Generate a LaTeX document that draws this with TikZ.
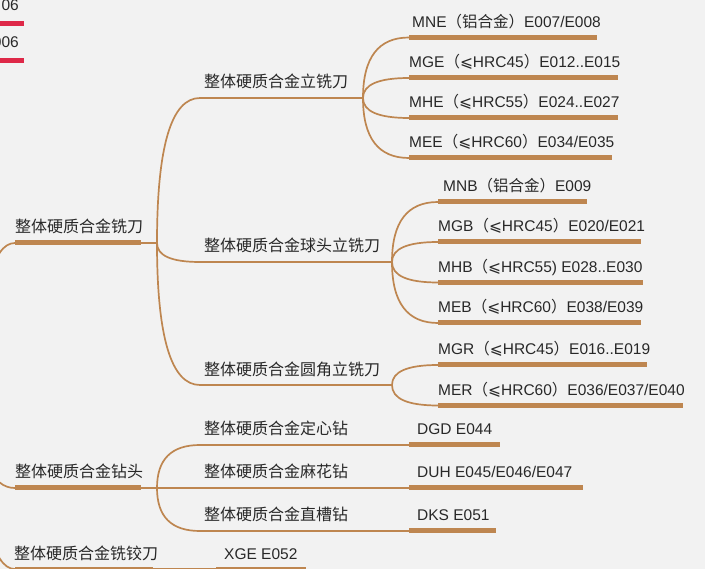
\documentclass[tikz,border=0pt]{standalone}
\usepackage{fontspec}
\setmainfont{Liberation Sans}
\newfontfamily\cjk{Noto Sans CJK SC}
\newfontfamily\symf{DejaVu Sans}
\usetikzlibrary{calc}
\definecolor{bg}{RGB}{242,242,242}
\definecolor{br}{RGB}{190,134,80}
\definecolor{rd}{RGB}{222,40,72}
\definecolor{tx}{RGB}{40,40,40}
\newcommand\zh[1]{{\cjk #1}}
\newcommand\lesym{{\symf ⩽}}
\newcommand\linkcurve[2]{\draw[thinline] (#1) .. controls ($(#1)!0.667!(#1|-#2)$) and ($(#2)!0.667!(#1|-#2)$) .. (#2);}
\begin{document}
\begin{tikzpicture}[x=1pt,y=-1pt,
  lbl/.style={anchor=base west, inner sep=0pt, text=tx, font=\fontsize{15.5}{18}\selectfont},
  zhlbl/.style={lbl, font=\fontsize{16}{18}\selectfont\cjk},
  thinline/.style={draw=br, line width=1.7pt},
  bar/.style={draw=br, line width=5pt},
  redbar/.style={draw=rd, line width=5pt}]
\fill[bg] (0,0) rectangle (705,569);
\useasboundingbox (0,0) rectangle (705,569);
\clip (0,0) rectangle (705,569);

% --- red fragments top left
\node[lbl, anchor=base east] (r1) at (19,11) {06};
\coordinate (r1a) at (0,23.3); \coordinate (r1b) at (24,23.3);
\draw[redbar] (r1a) -- (r1b);
\node[lbl, anchor=base east] (r2) at (19,48) {006};
\coordinate (r2a) at (0,60.2); \coordinate (r2b) at (24,60.2);
\draw[redbar] (r2a) -- (r2b);

% --- coordinates
\coordinate (root) at (-20,400);
% level 1
\coordinate (A) at (15,243); \coordinate (Ae) at (141,243); \coordinate (jA) at (157,243);
\coordinate (B) at (15,488); \coordinate (Be) at (141,488); \coordinate (jB) at (157,488);
\coordinate (C) at (15,569); \coordinate (Ce) at (153,569);
% level 2 (milling)
\coordinate (A1) at (200,98);  \coordinate (jA1) at (363,98);
\coordinate (A2) at (200,262); \coordinate (jA2) at (392,262);
\coordinate (A3) at (200,385); \coordinate (jA3) at (392,385);
% level 2 (drills)
\coordinate (B1) at (200,445); \coordinate (B1e) at (409,445);
\coordinate (B2e) at (409,488);
\coordinate (B3) at (200,531); \coordinate (B3e) at (409,531);
% leaves
\coordinate (L1) at (409,37.5);  \coordinate (L1e) at (597,37.5);
\coordinate (L2) at (409,78);    \coordinate (L2e) at (618,78);
\coordinate (L3) at (409,118);   \coordinate (L3e) at (618,118);
\coordinate (L4) at (409,158);   \coordinate (L4e) at (612,158);
\coordinate (K1) at (438,202);   \coordinate (K1e) at (587,202);
\coordinate (K2) at (438,242);   \coordinate (K2e) at (641,242);
\coordinate (K3) at (438,282.5); \coordinate (K3e) at (643,282.5);
\coordinate (K4) at (438,323);   \coordinate (K4e) at (641,323);
\coordinate (R1) at (438,365);   \coordinate (R1e) at (647,365);
\coordinate (R2) at (438,405.5); \coordinate (R2e) at (683,405.5);
\coordinate (D1e) at (500,445);
\coordinate (D2e) at (583,488);
\coordinate (D3e) at (496,531);
\coordinate (X) at (216,569); \coordinate (Xe) at (306,569);

% --- thin connectors
\linkcurve{root}{A}
\linkcurve{root}{B}
\linkcurve{root}{C}
\draw[thinline] (Ae) -- (jA);
\draw[thinline] (Be) -- (jB);
\draw[thinline] (Ce) -- (X);
\linkcurve{jA}{A1} \linkcurve{jA}{A2} \linkcurve{jA}{A3}
\draw[thinline] (A1) -- (jA1);
\draw[thinline] (A2) -- (jA2);
\draw[thinline] (A3) -- (jA3);
\linkcurve{jA1}{L1} \linkcurve{jA1}{L2} \linkcurve{jA1}{L3} \linkcurve{jA1}{L4}
\linkcurve{jA2}{K1} \linkcurve{jA2}{K2} \linkcurve{jA2}{K3} \linkcurve{jA2}{K4}
\linkcurve{jA3}{R1} \linkcurve{jA3}{R2}
\linkcurve{jB}{B1} \draw[thinline] (jB) -- (B2e); \linkcurve{jB}{B3}
\draw[thinline] (B1) -- (B1e);
\draw[thinline] (B3) -- (B3e);

% --- thick bars
\draw[bar] (A) -- (Ae);
\draw[bar] (B) -- (Be);
\draw[bar] (C) -- (Ce);
\draw[bar] (L1) -- (L1e);
\draw[bar] (L2) -- (L2e);
\draw[bar] (L3) -- (L3e);
\draw[bar] (L4) -- (L4e);
\draw[bar] (K1) -- (K1e);
\draw[bar] (K2) -- (K2e);
\draw[bar] (K3) -- (K3e);
\draw[bar] (K4) -- (K4e);
\draw[bar] (R1) -- (R1e);
\draw[bar] (R2) -- (R2e);
\draw[bar] (B1e) -- (D1e);
\draw[bar] (B2e) -- (D2e);
\draw[bar] (B3e) -- (D3e);
\draw[bar] (X) -- (Xe);

% --- labels
\node[zhlbl] (tA) at (15,233) {整体硬质合金铣刀};
\node[zhlbl] (tB) at (15,478) {整体硬质合金钻头};
\node[zhlbl] (tC) at (14,559) {整体硬质合金铣铰刀};
\node[zhlbl] (tA1) at (204,88) {整体硬质合金立铣刀};
\node[zhlbl] (tA2) at (204,252) {整体硬质合金球头立铣刀};
\node[zhlbl] (tA3) at (204,375.5) {整体硬质合金圆角立铣刀};
\node[zhlbl] (tB1) at (204,435) {整体硬质合金定心钻};
\node[zhlbl] (tB2) at (204,478) {整体硬质合金麻花钻};
\node[zhlbl] (tB3) at (204,521) {整体硬质合金直槽钻};
\node[lbl] (tL1) at (412,27.5) {MNE\zh{（铝合金）}E007/E008};
\node[lbl] (tL2) at (409,68) {MGE\zh{（}\lesym HRC45\zh{）}E012..E015};
\node[lbl] (tL3) at (409,108) {MHE\zh{（}\lesym HRC55\zh{）}E024..E027};
\node[lbl] (tL4) at (409,148) {MEE\zh{（}\lesym HRC60\zh{）}E034/E035};
\node[lbl] (tK1) at (443,192) {MNB\zh{（铝合金）}E009};
\node[lbl] (tK2) at (438,232) {MGB\zh{（}\lesym HRC45\zh{）}E020/E021};
\node[lbl] (tK3) at (438,272.5) {MHB\zh{（}\lesym HRC55) E028..E030};
\node[lbl] (tK4) at (438,313) {MEB\zh{（}\lesym HRC60\zh{）}E038/E039};
\node[lbl] (tR1) at (438,355) {MGR\zh{（}\lesym HRC45\zh{）}E016..E019};
\node[lbl] (tR2) at (438,395.5) {MER\zh{（}\lesym HRC60\zh{）}E036/E037/E040};
\node[lbl] (tD1) at (417,434.5) {DGD E044};
\node[lbl] (tD2) at (417,478) {DUH E045/E046/E047};
\node[lbl] (tD3) at (417,521) {DKS E051};
\node[lbl] (tX) at (224,559) {XGE E052};
\end{tikzpicture}
\end{document}
